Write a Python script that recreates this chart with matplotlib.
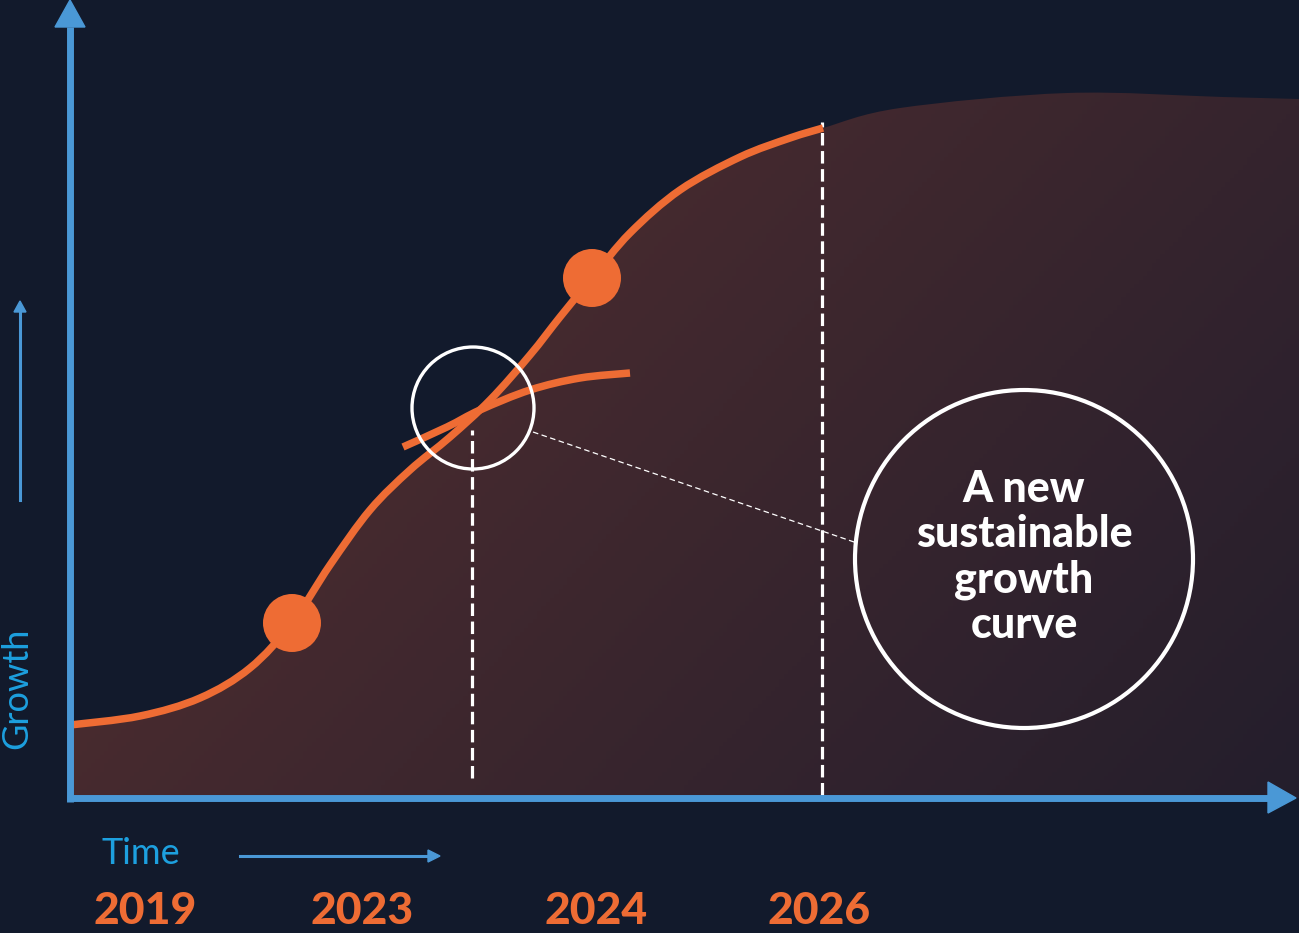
import numpy as np
import matplotlib.pyplot as plt
from matplotlib.path import Path
from matplotlib.patches import PathPatch, Circle, Polygon
from matplotlib.colors import LinearSegmentedColormap

plt.rcParams['lines.scale_dashes'] = False

# data, time on x / growth on y (1 unit = 1 px)
main_t = [0, 70, 130, 180, 222, 260, 300, 340, 380, 420, 460, 490, 522, 560, 610, 670, 720, 753]
main_g = [73, 82, 100, 130, 175, 233, 288, 328, 361, 398, 443, 481, 520, 565, 608, 641, 660, 670]
new_t = [333, 377, 410, 460, 510, 560]
new_g = [351, 371, 388, 408, 420, 425]
trend_t = [830, 997, 1153, 1229]
trend_g = [690, 705, 701, 699]
marker_t = [222, 522]
marker_g = [175, 520]
cut_t = [402, 752]
cut_top = [368, 676]
cut_bottom = [20, 3]
years = ['2019', '2023', '2024', '2026']
year_t = [75, 292, 526, 749]
note = 'A new\nsustainable\ngrowth\ncurve'

BG = '#121a2c'
ORANGE = '#ee6c34'
AXIS = '#4a98d6'
LABEL = '#1da0df'


def smooth_path(xs, ys):
    p = np.column_stack([xs, ys]).astype(float)
    p = np.vstack([p[0], p, p[-1]])
    verts = [p[1]]
    codes = [Path.MOVETO]
    for i in range(1, len(p) - 2):
        c1 = p[i] + (p[i + 1] - p[i - 1]) / 6
        c2 = p[i + 1] - (p[i + 2] - p[i]) / 6
        verts += [c1, c2, p[i + 1]]
        codes += [Path.CURVE4] * 3
    return verts, codes


fig = plt.figure(figsize=(12.99, 9.33), dpi=100, facecolor=BG)
ax = fig.add_axes([0, 0, 1, 1])
ax.set_facecolor(BG)
ax.set_xlim(-70, 1229)
ax.set_ylim(-135, 798)
ax.axis('off')

# shaded area under the long-term curve
v, c = smooth_path(main_t + trend_t, main_g + trend_g)
v = v + [(1229, 0), (0, 0), v[0]]
c = c + [Path.LINETO, Path.LINETO, Path.CLOSEPOLY]
area = PathPatch(Path(v, c), facecolor='none', edgecolor='none')
ax.add_patch(area)
u, w = np.meshgrid(np.linspace(0, 1, 300), np.linspace(0, 1, 220))
shade = np.clip(0.7 * u + 0.45 * w - 0.25, 0, 1)
cmap = LinearSegmentedColormap.from_list('shade', ['#4f2d2f', '#1b1b2c'])
img = ax.imshow(shade, cmap=cmap, vmin=0, vmax=1, extent=(-70, 1229, -135, 798),
                origin='upper', aspect='auto', zorder=1)
img.set_clip_path(area)

# dashed markers
for t, top, bot in zip(cut_t, cut_top, cut_bottom):
    ax.plot([t, t], [bot, top], color='white', lw=2.3, dashes=(9, 4), zorder=2)
ax.plot([463, 787], [366, 255], color='white', lw=0.9, dashes=(4, 2.5), zorder=2)

# curves
v, c = smooth_path(main_t, main_g)
ax.add_patch(PathPatch(Path(v, c), facecolor='none', edgecolor=ORANGE, lw=5.4,
                       capstyle='butt', zorder=3))
v, c = smooth_path(new_t, new_g)
ax.add_patch(PathPatch(Path(v, c), facecolor='none', edgecolor=ORANGE, lw=5.4,
                       capstyle='butt', zorder=3))
for t, g in zip(marker_t, marker_g):
    ax.add_patch(Circle((t, g), 29, facecolor=ORANGE, edgecolor='none', zorder=4))

# circles
ax.add_patch(Circle((403, 390), 61, facecolor='none', edgecolor='white', lw=2.4, zorder=5))
ax.add_patch(Circle((954, 239), 169, facecolor='none', edgecolor='white', lw=3.0, zorder=5))
ax.text(954, 241, note, color='white', fontsize=31, fontweight='black', family='Lato',
        ha='center', va='center', linespacing=1.15, zorder=6)

# axes with arrows
ax.plot([0, 0], [-4, 771], color=AXIS, lw=5, solid_capstyle='butt', zorder=6)
ax.plot([-3, 1198], [0, 0], color=AXIS, lw=5, solid_capstyle='butt', zorder=6)
ax.add_patch(Polygon([(-15, 771), (15, 771), (0, 798)], color=AXIS, zorder=6))
ax.add_patch(Polygon([(1198, 16), (1198, -15), (1226, 0)], color=AXIS, zorder=6))

ax.plot([-50, -50], [298, 488], color=AXIS, lw=2.2, zorder=6)
ax.add_patch(Polygon([(-56, 486), (-44, 486), (-50, 497)], color=AXIS, zorder=6))
ax.plot([170, 360], [-58, -58], color=AXIS, lw=2.2, zorder=6)
ax.add_patch(Polygon([(358, -52), (358, -64), (370, -58)], color=AXIS, zorder=6))

ax.text(-53, 110, 'Growth', color=LABEL, fontsize=26, family='Lato',
        rotation=90, ha='center', va='center')
ax.text(32, -55, 'Time', color=LABEL, fontsize=26, family='Lato',
        ha='left', va='center')

for lab, t in zip(years, year_t):
    ax.text(t, -113, lab, color=ORANGE, fontsize=32, fontweight='black', family='Lato',
            ha='center', va='center')

fig.savefig('out.png', dpi=100, facecolor=BG)
